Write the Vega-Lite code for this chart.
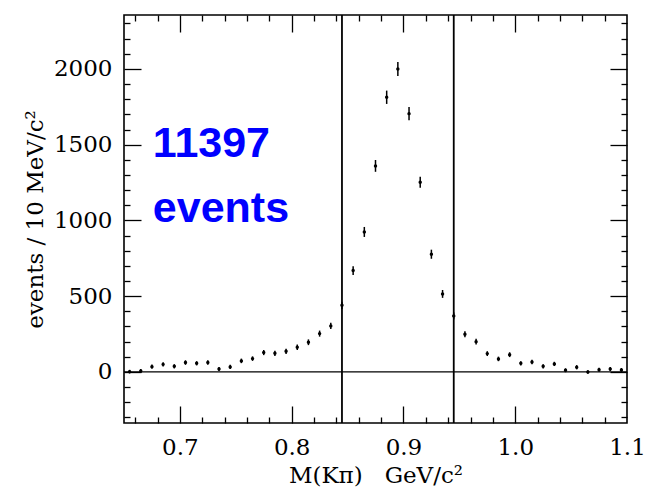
{
  "$schema": "https://vega.github.io/schema/vega-lite/v6.json",
  "width": 503,
  "height": 408,
  "autosize": {"type": "none"},
  "padding": {"left": 124, "top": 15, "right": 21, "bottom": 71},
  "background": "white",
  "config": {
    "view": {"stroke": "black", "strokeWidth": 1.6},
    "axis": {"domain": false, "grid": false, "tickColor": "black", "labelColor": "black", "titleColor": "black"}
  },
  "datasets": {
    "hist": [
      {"m": 0.655, "n": 2, "err": 12}, {"m": 0.665, "n": 7, "err": 13}, {"m": 0.675, "n": 35, "err": 14},
      {"m": 0.685, "n": 50, "err": 14}, {"m": 0.695, "n": 37, "err": 14}, {"m": 0.705, "n": 62, "err": 15},
      {"m": 0.715, "n": 57, "err": 14}, {"m": 0.725, "n": 62, "err": 15}, {"m": 0.735, "n": 20, "err": 13},
      {"m": 0.745, "n": 33, "err": 14}, {"m": 0.755, "n": 73, "err": 15}, {"m": 0.765, "n": 88, "err": 15},
      {"m": 0.775, "n": 128, "err": 17}, {"m": 0.785, "n": 123, "err": 17}, {"m": 0.795, "n": 136, "err": 17},
      {"m": 0.805, "n": 163, "err": 18}, {"m": 0.815, "n": 196, "err": 19}, {"m": 0.825, "n": 253, "err": 20},
      {"m": 0.835, "n": 304, "err": 21}, {"m": 0.845, "n": 440, "err": 24}, {"m": 0.855, "n": 669, "err": 29},
      {"m": 0.865, "n": 924, "err": 33}, {"m": 0.875, "n": 1360, "err": 39}, {"m": 0.885, "n": 1813, "err": 44},
      {"m": 0.895, "n": 2000, "err": 46}, {"m": 0.905, "n": 1705, "err": 43}, {"m": 0.915, "n": 1252, "err": 37},
      {"m": 0.925, "n": 777, "err": 30}, {"m": 0.935, "n": 515, "err": 26}, {"m": 0.945, "n": 370, "err": 23},
      {"m": 0.955, "n": 249, "err": 20}, {"m": 0.965, "n": 200, "err": 19}, {"m": 0.975, "n": 121, "err": 16},
      {"m": 0.985, "n": 86, "err": 15}, {"m": 0.995, "n": 114, "err": 16}, {"m": 1.005, "n": 57, "err": 14},
      {"m": 1.015, "n": 66, "err": 15}, {"m": 1.025, "n": 37, "err": 14}, {"m": 1.035, "n": 53, "err": 14},
      {"m": 1.045, "n": 11, "err": 13}, {"m": 1.055, "n": 31, "err": 14}, {"m": 1.065, "n": 0, "err": 12},
      {"m": 1.075, "n": 15, "err": 13}, {"m": 1.085, "n": 20, "err": 13}, {"m": 1.095, "n": 13, "err": 13}
    ],
    "cuts": [{"m": 0.845}, {"m": 0.945}],
    "label": [
      {"m": 0.6758, "n": 1419, "t": "11397"},
      {"m": 0.6758, "n": 990, "t": "events"}
    ]
  },
  "layer": [
    {
      "data": {"name": "hist"},
      "mark": {"type": "errorbar", "thickness": 1.5, "color": "black"},
      "encoding": {
        "x": {
          "field": "m", "type": "quantitative",
          "scale": {"domain": [0.65, 1.1], "nice": false, "zero": false},
          "axis": {
            "orient": "bottom", "values": [0.7, 0.8, 0.9, 1.0, 1.1], "format": ".1f",
            "ticks": false, "labelFont": "DejaVu Serif", "labelFontSize": 23, "labelPadding": 13,
            "labelFlush": false, "labelOverlap": false,
            "title": "M(Kπ)\u00a0\u00a0 GeV/c²", "titleFont": "DejaVu Serif", "titleFontSize": 23,
            "titleFontWeight": "normal", "titlePadding": 5
          }
        },
        "y": {
          "field": "n", "type": "quantitative",
          "scale": {"domain": [-337, 2356], "nice": false, "zero": false},
          "axis": {
            "orient": "left", "values": [0, 500, 1000, 1500, 2000], "format": "d",
            "ticks": false, "labelFont": "DejaVu Serif", "labelFontSize": 23, "labelPadding": 12,
            "labelFlush": false, "labelOverlap": false,
            "title": "events / 10 MeV/c²", "titleFont": "DejaVu Serif", "titleFontSize": 23,
            "titleFontWeight": "normal", "titlePadding": 6
          }
        },
        "yError": {"field": "err"}
      }
    },
    {
      "data": {"name": "hist"},
      "mark": {"type": "circle", "size": 12, "color": "black", "opacity": 1},
      "encoding": {
        "x": {
          "field": "m", "type": "quantitative",
          "scale": {"domain": [0.65, 1.1], "nice": false, "zero": false},
          "axis": {
            "orient": "bottom", "labels": false, "title": null, "tickWidth": 1.3,
            "values": [0.66, 0.68, 0.7, 0.72, 0.74, 0.76, 0.78, 0.8, 0.82, 0.84, 0.86, 0.88, 0.9, 0.92, 0.94, 0.96, 0.98, 1.0, 1.02, 1.04, 1.06, 1.08],
            "tickSize": {"condition": {"test": "abs(datum.value*10 - round(datum.value*10)) < 0.001", "value": -17}, "value": -6}
          }
        },
        "y": {
          "field": "n", "type": "quantitative",
          "scale": {"domain": [-337, 2356], "nice": false, "zero": false},
          "axis": {
            "orient": "left", "labels": false, "title": null, "tickWidth": 1.3,
            "values": [-300, -200, -100, 0, 100, 200, 300, 400, 500, 600, 700, 800, 900, 1000, 1100, 1200, 1300, 1400, 1500, 1600, 1700, 1800, 1900, 2000, 2100, 2200, 2300],
            "tickSize": {"condition": {"test": "datum.value % 500 == 0", "value": -17}, "value": -6}
          }
        }
      }
    },
    {
      "data": {"name": "label"},
      "mark": {"type": "text", "font": "Liberation Sans", "fontWeight": "bold", "fontSize": 43, "color": "#0000ff", "align": "left", "baseline": "alphabetic"},
      "encoding": {
        "x": {
          "field": "m", "type": "quantitative",
          "scale": {"domain": [0.65, 1.1], "nice": false, "zero": false},
          "axis": {
            "orient": "top", "labels": false, "title": null, "tickWidth": 1.3,
            "values": [0.66, 0.68, 0.7, 0.72, 0.74, 0.76, 0.78, 0.8, 0.82, 0.84, 0.86, 0.88, 0.9, 0.92, 0.94, 0.96, 0.98, 1.0, 1.02, 1.04, 1.06, 1.08],
            "tickSize": {"condition": {"test": "abs(datum.value*10 - round(datum.value*10)) < 0.001", "value": -17}, "value": -6}
          }
        },
        "y": {
          "field": "n", "type": "quantitative",
          "scale": {"domain": [-337, 2356], "nice": false, "zero": false},
          "axis": {
            "orient": "right", "labels": false, "title": null, "tickWidth": 1.3,
            "values": [-300, -200, -100, 0, 100, 200, 300, 400, 500, 600, 700, 800, 900, 1000, 1100, 1200, 1300, 1400, 1500, 1600, 1700, 1800, 1900, 2000, 2100, 2200, 2300],
            "tickSize": {"condition": {"test": "datum.value % 500 == 0", "value": -17}, "value": -6}
          }
        },
        "text": {"field": "t"}
      }
    },
    {
      "data": {"name": "cuts"},
      "mark": {"type": "rule", "color": "black", "strokeWidth": 1.8},
      "encoding": {
        "x": {"field": "m", "type": "quantitative", "scale": {"domain": [0.65, 1.1], "nice": false, "zero": false}, "axis": null}
      }
    },
    {
      "data": {"values": [{}]},
      "mark": {"type": "rule", "color": "black", "strokeWidth": 1.3},
      "encoding": {
        "y": {"datum": 0, "type": "quantitative", "scale": {"domain": [-337, 2356], "nice": false, "zero": false}, "axis": null}
      }
    }
  ],
  "resolve": {"axis": {"x": "independent", "y": "independent"}}
}
